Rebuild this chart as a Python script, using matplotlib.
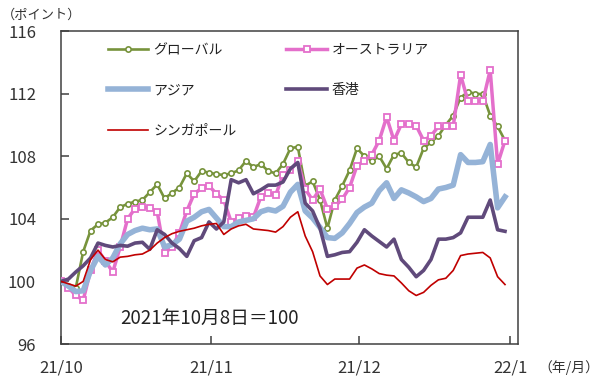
import numpy as np
import pandas as pd
import matplotlib
matplotlib.use("Agg")
import matplotlib.pyplot as plt

plt.rcParams['font.family'] = ['Noto Sans CJK JP', 'DejaVu Sans']

# ---- data (trading days, 2021-10-08 = 100) ----
dates = pd.bdate_range('2021-10-08', '2021-12-31')

global_idx = [100.0, 99.7, 99.6, 101.9, 103.25, 103.65, 103.75, 104.1, 104.75, 104.95,
              105.1, 105.2, 105.7, 106.2, 105.3, 105.65, 106.0, 106.9, 106.4, 107.05,
              106.95, 106.85, 106.8, 106.9, 107.1, 107.7, 107.3, 107.5, 107.05, 106.9,
              107.5, 108.5, 108.6, 106.1, 106.4, 105.2, 103.4, 105.2, 106.1, 107.1,
              108.5, 108.0, 107.7, 108.0, 107.2, 108.1, 108.2, 107.6, 107.3, 108.5,
              108.9, 109.3, 110.0, 110.6, 111.75, 112.1, 112.0, 111.95, 110.6, 109.9, 109.0]

australia = [100.0, 99.6, 99.1, 98.8, 100.7, 102.0, 101.3, 100.6, 102.2, 104.0,
             104.65, 104.75, 104.7, 104.45, 101.8, 102.2, 103.1, 104.5, 105.6, 105.95,
             106.1, 105.6, 105.2, 103.8, 104.05, 104.2, 104.1, 105.4, 105.65, 105.5,
             106.8, 107.1, 107.7, 105.9, 105.2, 105.9, 104.65, 104.8, 105.25, 106.0,
             107.4, 107.7, 108.1, 109.0, 110.5, 109.0, 110.05, 110.05, 109.95, 109.0,
             109.3, 109.9, 109.9, 109.9, 113.2, 111.5, 111.5, 111.5, 113.5, 107.5, 109.0]

asia = [100.0, 99.7, 99.35, 99.4, 100.7, 101.6, 101.05, 101.5, 102.4, 103.0,
        103.25, 103.4, 103.3, 103.35, 102.2, 102.35, 102.7, 103.85, 104.1, 104.45,
        104.6, 104.05, 103.5, 103.5, 103.8, 103.9, 104.0, 104.45, 104.6, 104.5,
        104.8, 105.7, 106.2, 104.5, 104.05, 103.45, 102.8, 102.75, 103.1, 103.7,
        104.4, 104.75, 105.0, 105.8, 106.3, 105.3, 105.85, 105.65, 105.4, 105.1,
        105.3, 105.9, 106.0, 106.15, 108.1, 107.6, 107.6, 107.65, 108.75, 104.7, 105.4]

hongkong = [100.0, 100.15, 100.6, 101.0, 101.5, 102.45, 102.3, 102.2, 102.3, 102.25,
            102.45, 102.5, 102.05, 103.3, 103.0, 102.45, 102.1, 101.6, 102.6, 102.8,
            103.8, 103.35, 103.8, 106.5, 106.3, 106.5, 105.6, 105.85, 106.15, 106.15,
            106.35, 107.2, 107.6, 105.0, 104.5, 103.4, 101.6, 101.7, 101.85, 101.9,
            102.5, 103.3, 102.9, 102.55, 102.2, 102.7, 101.4, 100.9, 100.3, 100.7,
            101.4, 102.7, 102.7, 102.8, 103.1, 104.1, 104.1, 104.1, 105.2, 103.3, 103.2]

singapore = [100.0, 99.85, 99.7, 100.0, 101.4, 102.0, 101.4, 101.25, 101.55, 101.6,
             101.7, 101.75, 102.0, 102.45, 102.8, 103.05, 103.2, 103.3, 103.4, 103.55,
             103.65, 103.7, 103.0, 103.35, 103.55, 103.65, 103.35, 103.3, 103.25, 103.15,
             103.5, 104.1, 104.45, 102.9, 101.9, 100.35, 99.8, 100.15, 100.15, 100.15,
             100.85, 101.05, 100.8, 100.5, 100.4, 100.35, 99.9, 99.4, 99.1, 99.3,
             99.75, 100.1, 100.2, 100.7, 101.65, 101.75, 101.8, 101.85, 101.5, 100.3, 99.8]

series_names = ['グローバル', 'オーストラリア', 'アジア', '香港', 'シンガポール']
x_tick_labels = ['21/10', '21/11', '21/12', '22/1']
y_ticks = [96, 100, 104, 108, 112, 116]
note_text = '2021年10月8日＝100'

# ---- figure ----
fig = plt.figure(figsize=(6.0, 3.79), dpi=100)
ax = fig.add_axes([61 / 600, 1 - 344 / 379, 457 / 600, 313 / 379])

x = np.arange(len(dates))

ax.plot(x, global_idx, color='#77933C', lw=1.9, marker='o', ms=3.8,
        mfc='white', mec='#77933C', mew=1.2, label=series_names[0], zorder=3)
ax.plot(x, australia, color='#E46FCB', lw=2.5, marker='s', ms=3.8,
        mfc='white', mec='#E46FCB', mew=1.3, label=series_names[1], zorder=4)
ax.plot(x, asia, color='#95B3D7', lw=4.0, label=series_names[2], zorder=5)
ax.plot(x, hongkong, color='#604A7B', lw=2.6, label=series_names[3], zorder=6)
ax.plot(x, singapore, color='#C00000', lw=1.2, label=series_names[4], zorder=7)

px_per_pt = 7.4
ax.set_xlim(0, 457 / px_per_pt)
ax.set_ylim(96, 116)
ax.set_yticks(y_ticks)
ax.set_xticks([0, 150 / px_per_pt, 298 / px_per_pt, 449 / px_per_pt])
ax.set_xticklabels(x_tick_labels)

for s in ax.spines.values():
    s.set_color('#404040')
    s.set_linewidth(1.1)

ax.tick_params(axis='y', direction='in', length=6, width=1.1, color='#404040',
               labelsize=12, pad=18, labelcolor='#333333')
ax.tick_params(axis='x', direction='in', length=6, width=1.1, color='#404040',
               labelsize=12, pad=11, labelcolor='#333333')

# legend (row-wise order as in the reference)
h, l = ax.get_legend_handles_labels()
order = [0, 2, 4, 1, 3]
leg = ax.legend([h[i] for i in order], [l[i] for i in order], ncol=2,
                loc='upper left', bbox_to_anchor=(0.103, 0.962), frameon=False,
                fontsize=10, handlelength=2.9, handletextpad=0.35,
                labelspacing=1.9, columnspacing=3.6, borderpad=0, borderaxespad=0)
for t in leg.get_texts():
    t.set_color('#222222')

ax.text(0.325, 0.083, note_text, transform=ax.transAxes, ha='center', va='center',
        fontsize=13.5, color='#222222')

fig.text(2 / 600, 1 - 15 / 379, '（ポイント）', ha='left', va='center', fontsize=9.5,
         color='#333333')
fig.text(538 / 600, 1 - 368 / 379, '（年/月）', ha='left', va='center', fontsize=10,
         color='#333333')

fig.savefig('out.png', dpi=100)
